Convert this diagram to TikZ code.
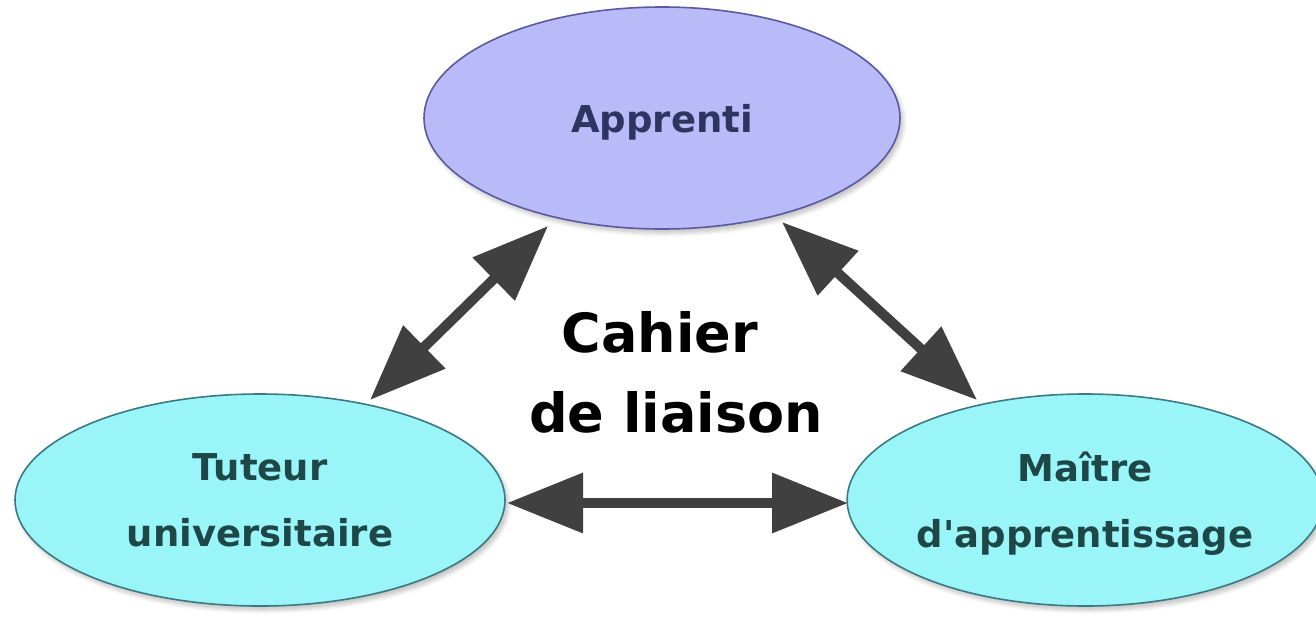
\documentclass[tikz,border=0pt]{standalone}
\usepackage{fontspec}
\setmainfont{DejaVu Sans}
\usetikzlibrary{shapes.geometric,arrows.meta,shadows.blur}
\definecolor{lavfill}{HTML}{B9BBF8}
\definecolor{lavline}{HTML}{5A5AA0}
\definecolor{lavtext}{HTML}{2E3560}
\definecolor{cyanfill}{HTML}{9AF5F9}
\definecolor{cyanline}{HTML}{3A7A80}
\definecolor{cyantext}{HTML}{1E4848}
\definecolor{arrowgray}{HTML}{404040}
\tikzset{
  bubble/.style={ellipse, draw, line width=0.8pt, inner sep=0pt, align=center,
    font=\bfseries\fontsize{18.5}{33}\selectfont,
    blur shadow={shadow blur steps=6, shadow xshift=1.5pt, shadow yshift=-2pt, shadow opacity=25}},
  topbubble/.style={bubble, fill=lavfill, draw=lavline, text=lavtext},
  lowbubble/.style={bubble, fill=cyanfill, draw=cyanline, text=cyantext},
  link/.style={draw=arrowgray, line width=5pt,
    {Triangle[length=38pt,width=29pt,fill=arrowgray]}-{Triangle[length=38pt,width=29pt,fill=arrowgray]}}
}
\begin{document}
\begin{tikzpicture}[x=0.5pt,y=-0.5pt]
\useasboundingbox (0,0) rectangle (1316,616);
\node[topbubble, minimum width=238pt, minimum height=111pt, text depth=-1.5pt] (appr) at (662,118) {Apprenti};
\node[lowbubble, minimum width=245pt, minimum height=106pt, text depth=-5pt] (tut) at (260,500) {Tuteur\\universitaire};
\node[lowbubble, minimum width=232pt, minimum height=106pt, text depth=-1.5pt] (mai) at (1085,500) {Maître\\d\textquotesingle apprentissage};
\node[align=center, font=\bfseries\fontsize{27}{40}\selectfont] (cahier) at (676,372) {Cahier\hspace*{16pt}\\de liaison};
\draw[link] ([shift={(-114,108)}]appr.center) -- ([shift={(110,-100)}]tut.center);
\draw[link] ([shift={(120,104)}]appr.center) -- ([shift={(-108,-100)}]mai.center);
\draw[link] ([shift={(247,3)}]tut.center) -- ([shift={(-237,3)}]mai.center);
\end{tikzpicture}
\end{document}
